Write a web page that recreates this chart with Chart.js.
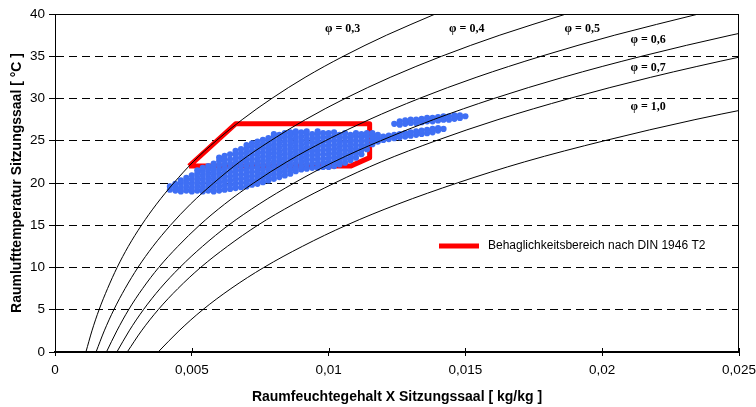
<!DOCTYPE html>
<html>
<head>
<meta charset="utf-8">
<script src="https://cdn.jsdelivr.net/npm/chart.js@4/dist/chart.umd.min.js"></script>
<style>
  html, body { margin: 0; padding: 0; background: #fff; }
  #wrap { width: 756px; height: 407px; }
</style>
</head>
<body>
<div id="wrap"><canvas id="canvas" width="756" height="407"></canvas></div>
<script>
// Temperaturstufen der phi-Kurven [°C]
const tempSteps = [0, 2.5, 5, 7.5, 10, 12.5, 15, 17.5, 20, 22.5, 25, 27.5, 30, 32.5, 35, 37.5, 40];

// Feuchtegehalt X [kg/kg] je relative Feuchte
const x03 = [0.00113, 0.00135, 0.00161, 0.00192, 0.00227, 0.00268, 0.00316, 0.00371, 0.00434, 0.00505, 0.00589, 0.00684, 0.00792, 0.00914, 0.01054, 0.01212, 0.01390];
const x04 = [0.00150, 0.00180, 0.00215, 0.00256, 0.00303, 0.00358, 0.00422, 0.00495, 0.00580, 0.00675, 0.00788, 0.00915, 0.01060, 0.01225, 0.01413, 0.01626, 0.01868];
const x05 = [0.00188, 0.00226, 0.00269, 0.00320, 0.00379, 0.00449, 0.00528, 0.00620, 0.00726, 0.00847, 0.00988, 0.01148, 0.01331, 0.01539, 0.01777, 0.02046, 0.02352];
const x06 = [0.00226, 0.00271, 0.00323, 0.00384, 0.00456, 0.00539, 0.00634, 0.00746, 0.00874, 0.01019, 0.01190, 0.01383, 0.01604, 0.01856, 0.02144, 0.02471, 0.02844];
const x07 = [0.00264, 0.00316, 0.00377, 0.00449, 0.00532, 0.00630, 0.00741, 0.00872, 0.01022, 0.01192, 0.01392, 0.01619, 0.01880, 0.02176, 0.02516, 0.02902];
const x10 = [0.00377, 0.00453, 0.00540, 0.00643, 0.00763, 0.00904, 0.01065, 0.01253, 0.01470, 0.01716, 0.02008, 0.02339, 0.02721];

const phiLabels = ['φ = 0,3', 'φ = 0,4', 'φ = 0,5', 'φ = 0,6', 'φ = 0,7', 'φ = 1,0'];
const phiLabelX = [0.01051, 0.01505, 0.01927, 0.02168, 0.02168, 0.02168];
const phiLabelT = [38.2, 38.2, 38.2, 36.9, 33.6, 29.0];

// Behaglichkeitsbereich nach DIN 1946 T2
const comfortX = [0.0049, 0.0066, 0.0115, 0.0115, 0.0108, 0.0049];
const comfortT = [22, 27, 27, 23, 22, 22];
const comfortLabel = 'Behaglichkeitsbereich nach DIN 1946 T2';

// Messwerte Sitzungssaal: X-Spalte und zugehoerige Temperaturen
const measured = [
  [0.0042, [19.2, 19.6]],
  [0.0044, [19.1, 19.5, 19.9]],
  [0.0046, [19.0, 19.4, 19.9, 20.3]],
  [0.0048, [19.1, 19.6, 20.1, 20.6]],
  [0.0050, [19.0, 19.4, 19.9, 20.4, 20.9]],
  [0.0052, [19.1, 19.6, 20.1, 20.6, 21.1, 21.5]],
  [0.0054, [19.0, 19.4, 19.9, 20.4, 20.9, 21.4, 21.8]],
  [0.0056, [19.1, 19.6, 20.1, 20.6, 21.1, 21.6, 22.0]],
  [0.0058, [19.0, 19.4, 19.9, 20.4, 20.9, 21.4, 21.9, 22.3]],
  [0.0060, [19.1, 19.6, 20.1, 20.6, 21.1, 21.6, 22.1, 22.6, 23.0]],
  [0.0062, [19.2, 19.7, 20.2, 20.7, 21.2, 21.7, 22.2, 22.7, 23.2]],
  [0.0064, [19.3, 19.8, 20.3, 20.8, 21.3, 21.8, 22.3, 22.8, 23.4]],
  [0.0066, [19.4, 19.9, 20.4, 20.9, 21.4, 21.9, 22.4, 22.9, 23.4, 23.8]],
  [0.0068, [19.5, 20.0, 20.5, 21.0, 21.5, 22.0, 22.5, 23.0, 23.5, 24.0]],
  [0.0070, [19.6, 20.1, 20.6, 21.1, 21.6, 22.1, 22.6, 23.1, 23.6, 24.1, 24.5]],
  [0.0072, [19.8, 20.3, 20.8, 21.3, 21.8, 22.3, 22.8, 23.3, 23.8, 24.3, 24.7]],
  [0.0074, [19.9, 20.4, 20.9, 21.4, 21.9, 22.4, 22.9, 23.4, 23.9, 24.4, 24.9]],
  [0.0076, [20.1, 20.6, 21.1, 21.6, 22.1, 22.6, 23.1, 23.6, 24.1, 24.6, 25.1]],
  [0.0078, [20.3, 20.8, 21.3, 21.8, 22.3, 22.8, 23.3, 23.8, 24.3, 24.8, 25.3]],
  [0.0080, [20.5, 21.0, 21.5, 22.0, 22.5, 23.0, 23.5, 24.0, 24.5, 25.0, 25.5, 25.8]],
  [0.0082, [20.7, 21.2, 21.7, 22.2, 22.7, 23.2, 23.7, 24.2, 24.7, 25.2, 25.7]],
  [0.0084, [20.9, 21.4, 21.9, 22.4, 22.9, 23.4, 23.9, 24.4, 24.9, 25.4, 25.9]],
  [0.0086, [21.1, 21.6, 22.1, 22.6, 23.1, 23.6, 24.1, 24.6, 25.1, 25.6, 26.0]],
  [0.0088, [21.4, 21.8, 22.3, 22.8, 23.3, 23.8, 24.3, 24.8, 25.3, 25.8, 26.1]],
  [0.0090, [21.6, 22.0, 22.5, 23.0, 23.5, 24.0, 24.5, 25.0, 25.5, 26.0]],
  [0.0092, [21.7, 22.2, 22.7, 23.2, 23.7, 24.2, 24.7, 25.2, 25.7, 26.1]],
  [0.0094, [21.8, 22.3, 22.8, 23.3, 23.8, 24.3, 24.8, 25.3, 25.8]],
  [0.0096, [21.8, 22.3, 22.8, 23.3, 23.8, 24.3, 24.8, 25.3, 25.8, 26.1]],
  [0.0098, [21.9, 22.4, 22.9, 23.4, 23.9, 24.4, 24.9, 25.4, 25.9]],
  [0.0100, [21.9, 22.4, 22.9, 23.4, 23.9, 24.4, 24.9, 25.4, 25.9]],
  [0.0102, [22.0, 22.5, 23.0, 23.5, 24.0, 24.5, 25.0, 25.5, 26.0]],
  [0.0104, [22.2, 22.7, 23.2, 23.7, 24.2, 24.7, 25.2, 25.7]],
  [0.0106, [22.4, 22.9, 23.4, 23.9, 24.4, 24.9, 25.4, 25.9]],
  [0.0108, [22.7, 23.2, 23.7, 24.2, 24.7, 25.2, 25.7]],
  [0.0110, [23.0, 23.5, 24.0, 24.5, 25.0, 25.5, 25.9]],
  [0.0112, [23.4, 23.9, 24.4, 24.9, 25.4, 25.8]],
  [0.0114, [24.0, 24.5, 25.0, 25.5, 25.9]],
  [0.0116, [24.6, 25.1, 25.5, 25.9]],
  [0.0118, [24.9, 25.3, 25.7]],
  [0.0120, [25.1, 25.5]],
  [0.0122, [25.2, 25.6]],
  [0.0124, [25.3, 25.7, 27.0]],
  [0.0126, [25.4, 25.8, 26.9, 27.3]],
  [0.0128, [25.5, 25.9, 27.0, 27.4]],
  [0.0130, [25.6, 26.0, 27.1, 27.5]],
  [0.0132, [25.7, 26.1, 27.1, 27.5]],
  [0.0134, [25.8, 26.2, 27.2, 27.6]],
  [0.0136, [25.9, 26.3, 27.3, 27.7]],
  [0.0138, [26.0, 26.4, 27.3, 27.7]],
  [0.0140, [26.2, 26.5, 27.4, 27.8]],
  [0.0142, [26.4, 27.5, 27.9]],
  [0.0144, [27.5, 27.9]],
  [0.0146, [27.6, 28.0]],
  [0.0148, [27.7, 28.0]],
  [0.0150, [27.9]]
];

// Achsenbeschriftungen
const xTickLabels = ['0', '0,005', '0,01', '0,015', '0,02', '0,025'];
const yTickLabels = ['0', '5', '10', '15', '20', '25', '30', '35', '40'];

const curveSets = [x03, x04, x05, x06, x07, x10];

let datasets = [];
for (let i = 0; i < curveSets.length; i++) {
    datasets.push({
        label: phiLabels[i],
        data: curveSets[i].map((x, k) => ({ x: x, y: tempSteps[k] })),
        showLine: true,
        borderColor: '#000',
        borderWidth: 1,
        pointRadius: 0,
        cubicInterpolationMode: 'monotone',
        order: 0
    });
}

let cloud = [];
measured.forEach(col => col[1].forEach(t => cloud.push({ x: col[0], y: t })));
datasets.push({
    label: 'Messwerte',
    data: cloud,
    showLine: false,
    pointRadius: 3.1,
    pointBorderWidth: 0,
    backgroundColor: '#3f6ff4',
    borderColor: '#3f6ff4',
    order: 1
});

datasets.push({
    label: comfortLabel,
    data: comfortX.map((x, k) => ({ x: x, y: comfortT[k] })),
    showLine: true,
    borderColor: '#ff0000',
    borderWidth: 5,
    borderJoinStyle: 'round',
    pointRadius: 0,
    tension: 0,
    order: 2
});

// Rahmen, innere X-Ticks, phi-Beschriftung und Legende
const extras = {
    id: 'extras',
    afterDatasetsDraw(chart) {
        const ctx = chart.ctx;
        const a = chart.chartArea;
        const xs = chart.scales.x, ys = chart.scales.y;
        ctx.save();
        ctx.strokeStyle = '#000';
        ctx.lineWidth = 1;
        ctx.beginPath();
        ctx.moveTo(a.left, a.top + 0.5);
        ctx.lineTo(a.right - 0.5, a.top + 0.5);
        ctx.lineTo(a.right - 0.5, a.bottom);
        ctx.stroke();
        xs.ticks.forEach(t => {
            const px = Math.round(xs.getPixelForValue(t.value)) + 0.5;
            ctx.beginPath();
            ctx.moveTo(px, a.bottom);
            ctx.lineTo(px, a.bottom - 4);
            ctx.stroke();
        });

        ctx.fillStyle = '#000';
        ctx.font = 'bold 12px "Liberation Serif", "Times New Roman", serif';
        ctx.textAlign = 'center';
        ctx.textBaseline = 'middle';
        for (let i = 0; i < phiLabels.length; i++) {
            ctx.fillText(phiLabels[i], xs.getPixelForValue(phiLabelX[i]), ys.getPixelForValue(phiLabelT[i]));
        }

        // Legende im Diagramm
        const lx = a.left + 384, ly = a.top + 232;
        ctx.strokeStyle = '#ff0000';
        ctx.lineWidth = 5;
        ctx.beginPath();
        ctx.moveTo(lx, ly);
        ctx.lineTo(lx + 40, ly);
        ctx.stroke();
        ctx.font = '12px "Liberation Sans", Arial, sans-serif';
        ctx.textAlign = 'left';
        ctx.fillStyle = '#000';
        ctx.fillText(comfortLabel, lx + 49, ly);
        ctx.restore();
    }
};

new Chart(
    document.querySelector('#canvas'),
    {
        type: 'scatter',
        data: { datasets: datasets },
        options: {
            responsive: false,
            animation: false,
            layout: { padding: { top: 14, right: 17, left: 0, bottom: 0 } },
            plugins: {
                legend: { display: false },
                tooltip: { enabled: false }
            },
            scales: {
                x: {
                    type: 'linear',
                    min: 0,
                    max: 0.025,
                    afterFit: s => { s.height = 55; s.paddingLeft = 0; s.paddingRight = 0; },
                    afterBuildTicks: s => {
                        s.ticks = xTickLabels.map((l, i) => ({ value: i * 0.005 }));
                    },
                    ticks: {
                        color: '#000',
                        padding: 6,
                        maxRotation: 0,
                        font: { family: '"Liberation Sans", Arial, sans-serif', size: 13.5 },
                        callback: (v, i) => xTickLabels[i]
                    },
                    grid: { drawOnChartArea: false, drawTicks: true, tickLength: 4, color: '#000' },
                    border: { color: '#000', width: 2 },
                    title: {
                        display: true,
                        text: 'Raumfeuchtegehalt X Sitzungssaal [ kg/kg ]',
                        color: '#000',
                        padding: { top: 0, bottom: 1 },
                        font: { family: '"Liberation Sans", Arial, sans-serif', size: 14, weight: 'bold' }
                    }
                },
                y: {
                    type: 'linear',
                    min: 0,
                    max: 40,
                    afterFit: s => { s.width = 55; },
                    ticks: {
                        stepSize: 5,
                        color: '#000',
                        padding: 4,
                        font: { family: '"Liberation Sans", Arial, sans-serif', size: 13.5 },
                        callback: (v, i) => yTickLabels[i]
                    },
                    grid: {
                        color: '#000',
                        lineWidth: 1,
                        tickLength: 6,
                        tickBorderDash: [],
                        tickColor: '#000'
                    },
                    border: { color: '#000', width: 1, dash: [8, 5] },
                    title: {
                        display: true,
                        text: 'Raumlufttemperatur Sitzungssaal [ °C ]',
                        color: '#000',
                        padding: { top: 9, bottom: 0 },
                        font: { family: '"Liberation Sans", Arial, sans-serif', size: 14, weight: 'bold' }
                    }
                }
            }
        },
        plugins: [extras]
    }
);
</script>
</body>
</html>
